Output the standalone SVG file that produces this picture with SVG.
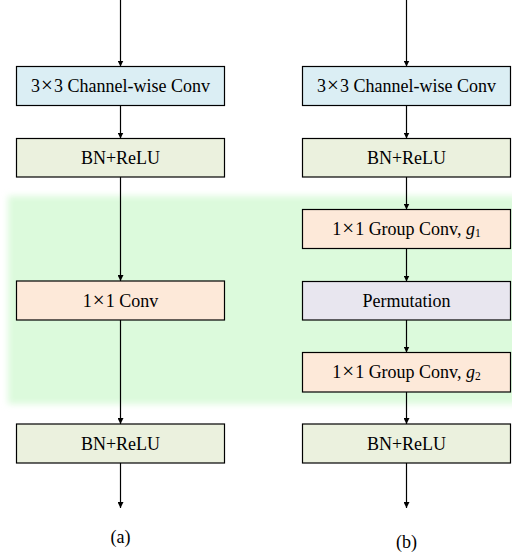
<svg xmlns="http://www.w3.org/2000/svg" width="512" height="556" viewBox="0 0 512 556">
<defs>
<style>
.box{stroke:#000;stroke-width:1.2}
.blue{fill:#dbeef4}
.bn{fill:#ebf1de}
.conv{fill:#fde9d9}
.perm{fill:#e8e6ef}
text{font-family:"Liberation Serif","Times New Roman",serif;font-size:18px;fill:#000;text-anchor:middle}
.x{font-size:21px}
.conn line{stroke:#000;stroke-width:1.2;marker-end:url(#ah)}
</style>
<marker id="ah" viewBox="0 0 10 10" refX="10" refY="5" markerWidth="6" markerHeight="6" markerUnits="userSpaceOnUse" orient="auto">
<path d="M0,0 L10,5 L0,10 z" fill="#000"/>
</marker>
<filter id="blur" x="-5%" y="-10%" width="110%" height="120%"><feGaussianBlur stdDeviation="3"/></filter>
</defs>
<rect x="0" y="0" width="512" height="556" fill="#fff"/>
<rect id="bg" x="8" y="196" width="510" height="208" fill="#dcfadc" filter="url(#blur)"/>
<g class="conn">
<line x1="120.5" y1="0" x2="120.5" y2="66.5"/>
<line x1="120.5" y1="105.5" x2="120.5" y2="138.5"/>
<line x1="120.5" y1="177" x2="120.5" y2="281"/>
<line x1="120.5" y1="320" x2="120.5" y2="424"/>
<line x1="120.5" y1="463" x2="120.5" y2="508"/>
<line x1="406.5" y1="0" x2="406.5" y2="66.5"/>
<line x1="406.5" y1="105.5" x2="406.5" y2="138.5"/>
<line x1="406.5" y1="177" x2="406.5" y2="209.5"/>
<line x1="406.5" y1="248.5" x2="406.5" y2="281.5"/>
<line x1="406.5" y1="320" x2="406.5" y2="352.5"/>
<line x1="406.5" y1="392" x2="406.5" y2="424"/>
<line x1="406.5" y1="463" x2="406.5" y2="508"/>
</g>
<g id="a_conv3">
<rect class="box blue" x="16.5" y="66.5" width="208" height="39"/>
<text x="120.5" y="92">3<tspan class="x" dx="1">×</tspan><tspan dx="1">3 Channel-wise Conv</tspan></text>
</g>
<g id="a_bn1">
<rect class="box bn" x="16.5" y="138.5" width="208" height="38.5"/>
<text x="120.5" y="163.5">BN+ReLU</text>
</g>
<g id="a_conv1">
<rect class="box conv" x="16.5" y="281" width="208" height="39"/>
<text x="120.5" y="306.5">1<tspan class="x" dx="1">×</tspan><tspan dx="1">1 Conv</tspan></text>
</g>
<g id="a_bn2">
<rect class="box bn" x="16.5" y="424" width="208" height="39"/>
<text x="120.5" y="449.5">BN+ReLU</text>
</g>
<g id="b_conv3">
<rect class="box blue" x="302.5" y="66.5" width="208" height="39"/>
<text x="406.5" y="92">3<tspan class="x" dx="1">×</tspan><tspan dx="1">3 Channel-wise Conv</tspan></text>
</g>
<g id="b_bn1">
<rect class="box bn" x="302.5" y="138.5" width="208" height="38.5"/>
<text x="406.5" y="163.5">BN+ReLU</text>
</g>
<g id="b_g1">
<rect class="box conv" x="302.5" y="209.5" width="208" height="39"/>
<text x="406.5" y="235">1<tspan class="x" dx="1">×</tspan><tspan dx="1">1 Group Conv, </tspan><tspan font-style="italic">g</tspan><tspan font-size="11.5" dy="2">1</tspan></text>
</g>
<g id="b_perm">
<rect class="box perm" x="302.5" y="281.5" width="208" height="38.5"/>
<text x="406.5" y="306.5">Permutation</text>
</g>
<g id="b_g2">
<rect class="box conv" x="302.5" y="352.5" width="208" height="39.5"/>
<text x="406.5" y="378">1<tspan class="x" dx="1">×</tspan><tspan dx="1">1 Group Conv, </tspan><tspan font-style="italic">g</tspan><tspan font-size="11.5" dy="2">2</tspan></text>
</g>
<g id="b_bn2">
<rect class="box bn" x="302.5" y="424" width="208" height="39"/>
<text x="406.5" y="449.5">BN+ReLU</text>
</g>
<text x="120.5" y="543">(a)</text>
<text x="406.5" y="548">(b)</text>
</svg>
